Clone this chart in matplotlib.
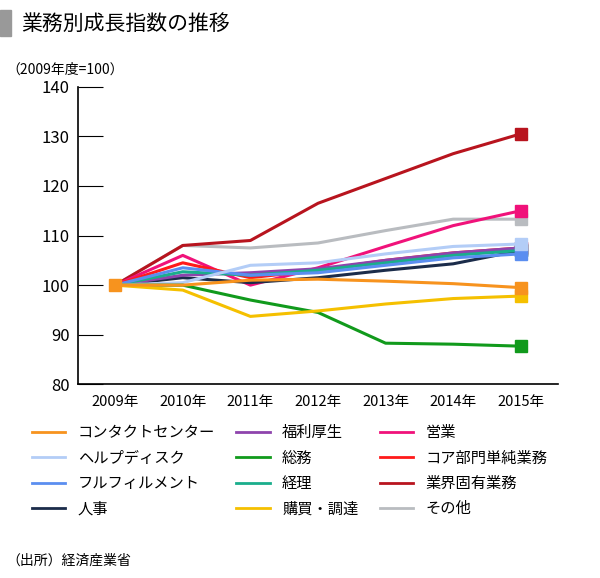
import matplotlib.pyplot as plt
from matplotlib.patches import Rectangle

plt.rcParams['font.family'] = ['Noto Sans CJK JP', 'DejaVu Sans']

years = ["2009年", "2010年", "2011年", "2012年", "2013年", "2014年", "2015年"]
names = ["コンタクトセンター", "福利厚生", "営業",
         "ヘルプディスク", "総務", "コア部門単純業務",
         "フルフィルメント", "経理", "業界固有業務",
         "人事", "購買・調達", "その他"]
colors = ["#f7931e", "#8e44ad", "#f0127a",
          "#b3cdf7", "#119a1c", "#ff1a1a",
          "#5b8ef0", "#1aae8c", "#b8141e",
          "#1b2c4a", "#f5c000", "#b9bcc0"]
contact = [100, 100, 101, 101.2, 100.8, 100.3, 99.5]
welfare = [100, 102, 102.5, 103.3, 105, 106.5, 107.5]
sales = [100, 106, 100, 103.5, 107.8, 112, 115]
helpdesk = [100, 100.5, 104, 104.5, 106.3, 107.8, 108.3]
general = [100, 100, 97, 94.5, 88.3, 88.1, 87.7]
core = [100, 104.5, 101.5, 103, 105, 106.5, 107.5]
fulfil = [100, 103.5, 102, 102.5, 104, 105.5, 106.3]
account = [100, 102.7, 102, 103, 104.5, 106, 107]
industry = [100, 108, 109, 116.5, 121.5, 126.5, 130.5]
hr = [100, 101.5, 100.5, 101.5, 103, 104.3, 107]
purchase = [100, 99, 93.7, 94.8, 96.2, 97.3, 97.8]
other = [100, 108, 107.5, 108.5, 111, 113.3, 113.3]
series = [contact, welfare, sales, helpdesk, general, core,
          fulfil, account, industry, hr, purchase, other]

fig = plt.figure(figsize=(6.0, 5.78), dpi=100)
ax = fig.add_axes([0.13, 0.335, 0.80, 0.515])
x = range(len(years))
order = [11, 8, 2, 9, 5, 1, 7, 6, 3, 4, 10, 0]
for i in order:
    ax.plot(x, series[i], color=colors[i], lw=2.2)
    ax.plot([x[-1]], [series[i][-1]], 's', color=colors[i], ms=8)
ax.plot([0], [100], 's', color=colors[0], ms=8)

ax.set_ylim(80, 140)
ax.set_xlim(-0.55, 6.55)
ax.set_yticks(range(80, 141, 10))
ax.set_xticks(list(x))
ax.set_xticklabels(years, fontsize=10.5)
ax.tick_params(axis='y', labelsize=12, direction='in', length=18, pad=6)
ax.tick_params(axis='x', length=0, pad=8)
for s in ["top", "right"]:
    ax.spines[s].set_visible(False)
ax.spines["left"].set_linewidth(1.2)
ax.spines["bottom"].set_linewidth(1.2)

fig.add_artist(Rectangle((0.0, 0.937), 0.018, 0.045, transform=fig.transFigure,
                         color="#999999"))
fig.text(0.035, 0.958, "業務別成長指数の推移", fontsize=15, va="center")
fig.text(0.01, 0.88, "（2009年度=100）", fontsize=10, va="center")

# legend fills column-major, so reorder to read row by row
idx = [r * 3 + c for c in range(3) for r in range(4)]
handles = [plt.Line2D([], [], color=colors[i], lw=2) for i in idx]
fig.legend(handles, [names[i] for i in idx], ncol=3, loc="upper left",
           bbox_to_anchor=(0.03, 0.29), frameon=False, fontsize=11,
           handlelength=2.2, columnspacing=1.4, labelspacing=0.55)
fig.text(0.01, 0.03, "（出所）経済産業省", fontsize=10, va="center")

fig.savefig("out.png", dpi=100)
